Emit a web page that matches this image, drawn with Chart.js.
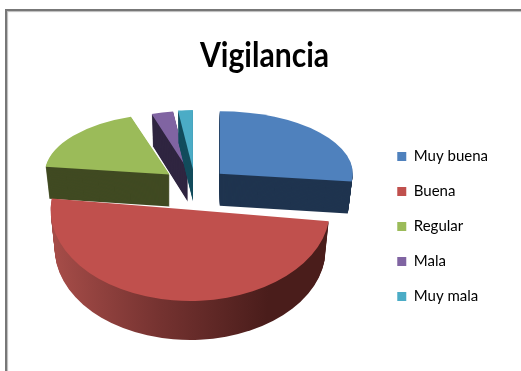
<!DOCTYPE html>
<html>
<head>
<meta charset="utf-8">
<script src="https://cdn.jsdelivr.net/npm/chart.js@4/dist/chart.umd.min.js"></script>
<style>
    html, body {margin: 0; background: #fff; overflow: hidden;}
    #Frame {position: absolute; left: 5px; top: 9px; right: -4px; bottom: -4px; border: 2px solid #777; box-shadow: inset 1px 1px 1px #bbb;}
    #Chart {position: absolute; left: 0; top: 0;}
</style>
</head>
<body>
<div id="Frame"></div>
<canvas id="Chart" width="521" height="371"></canvas>
<script>
const Title = "Vigilancia"
const Categories = ["Muy buena", "Buena", "Regular", "Mala", "Muy mala"]
const Values = [27, 50, 18, 3, 2]

const TopColors = ["#4f81bd", "#c0504d", "#9bbb59", "#8064a2", "#4bacc6"]
const SideColors = ["#1f344f", null, "#404a22", "#2f2540", "#144e5e"]
const Explode = [33, 38, 33, 33, 33]
const Perspective = [1, 1.05, 0.94, 0.88, 0.9]

// fake 3D: far slices are squashed more than near ones, the camera looks down from the front
const FarTilt = 0.47
const NearTilt = 0.685
const FarDepth = 32
const NearDepth = 39
const Taper = 0.03
const CenterX = 195
const CenterY = 184
const TitleSqueeze = 0.86

// red side is the only one with visible shading
function RedSide(ctx, Arc){
    const Grad = ctx.createLinearGradient(Arc.x - 130, 0, Arc.x + 75, 0)
    Grad.addColorStop(0, "#a54c48")
    Grad.addColorStop(0.5, "#743230")
    Grad.addColorStop(1, "#4a1d1b")
    return Grad
}

function PlaceSlice(ctx, Arc, Shift, Down, GrowX, Tilt){
    const Mid = (Arc.startAngle + Arc.endAngle) / 2
    ctx.translate(CenterX + Math.cos(Mid) * Shift, CenterY + Math.sin(Mid) * Shift * Tilt + Down)
    ctx.scale(GrowX, Tilt)
    ctx.translate(-Arc.x, -Arc.y)
}

function DrawSlice(ctx, Arc, Shift, Grow, Side){
    const Near = Math.sin((Arc.startAngle + Arc.endAngle) / 2) > 0
    const Tilt = (Near ? NearTilt : FarTilt) * (Near ? 1 : Math.sqrt(Grow))
    const Depth = Near ? NearDepth : FarDepth
    const Options = Arc.options

    Arc.options = Object.assign({}, Options, {backgroundColor: Side})
    for (let d = Depth; d > 0; d--){
        ctx.save()
        PlaceSlice(ctx, Arc, Shift, d, Grow * (1 - Taper * d / Depth), Tilt)
        Arc.draw(ctx)
        ctx.restore()
    }
    Arc.options = Options

    ctx.save()
    PlaceSlice(ctx, Arc, Shift, 0, Grow, Tilt)
    Arc.draw(ctx)
    ctx.restore()
}

const Pie3D = {
    id: "Pie3D",
    afterLayout(chart){
        // the reference title is a narrow face, squeeze it around its middle
        const Block = chart.titleBlock
        if (Block.Squeezed) return
        const Draw = Block.draw
        Block.draw = function(){
            const ctx = chart.ctx
            const Mid = Block.left + Block.width / 2
            ctx.save()
            ctx.translate(Mid, 0)
            ctx.scale(TitleSqueeze, 1)
            ctx.translate(-Mid, 0)
            Draw.call(Block)
            ctx.restore()
        }
        Block.Squeezed = true
    },
    beforeDatasetDraw(chart, args){
        const ctx = chart.ctx
        const Arcs = args.meta.data
        // red goes last, it sits in front of the others
        const Order = [2, 3, 4, 0, 1]
        for (const i of Order){
            DrawSlice(ctx, Arcs[i], Explode[i], Perspective[i], SideColors[i] || RedSide(ctx, Arcs[i]))
        }
        return false
    }
}

new Chart(document.getElementById("Chart"), {
    type: "pie",
    data: {
        labels: Categories,
        datasets: [{
            data: Values,
            backgroundColor: TopColors,
            borderWidth: 0,
            radius: 133
        }]
    },
    plugins: [Pie3D],
    options: {
        responsive: false,
        animation: false,
        layout: {padding: {top: 35, right: 23, bottom: 47, left: 31}},
        plugins: {
            tooltip: {enabled: false},
            title: {
                display: true,
                text: Title,
                color: "#000",
                font: {family: "Lato", size: 35, weight: "bold"},
                padding: {top: 0, bottom: 10}
            },
            legend: {
                position: "right",
                align: "end",
                labels: {
                    boxWidth: 9,
                    boxHeight: 9,
                    padding: 20,
                    color: "#000",
                    font: {family: "Lato", size: 15}
                }
            }
        }
    }
})
</script>
</body>
</html>
